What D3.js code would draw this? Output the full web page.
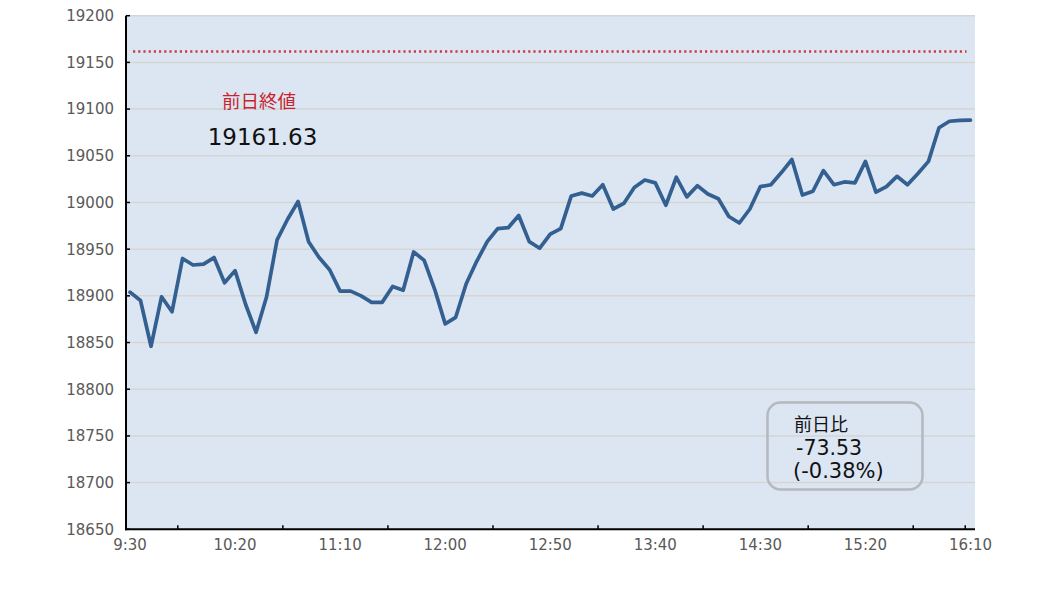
<!DOCTYPE html>
<html><head><meta charset="utf-8">
<script src="https://cdn.jsdelivr.net/npm/d3@7"></script>
<style>
html,body{margin:0;padding:0;background:#fff;}
svg{display:block;font-family:'DejaVu Sans','Noto Sans CJK JP',sans-serif;}
</style></head>
<body>
<svg id="chart" width="1037" height="598"></svg>
<script>
const values = [18904,18895,18846,18899,18883,18940,18933,18934,18941,18914,
18927,18891,18861,18899,18960,18982,19001,18958,18941,18928,
18905,18905,18900,18893,18893,18910,18906,18947,18938,18907,
18870,18877,18913,18937,18958,18972,18973,18986,18958,18951,
18966,18972,19007,19010,19007,19019,18993,18999,19016,19024,
19021,18997,19027,19006,19018,19009,19004,18985,18978,18993,
19017,19019,19032,19046,19008,19012,19034,19019,19022,19021,
19044,19011,19017,19028,19019,19031,19044,19080,19087,19088,19088.1];
const xTickLabels = ["9:30","10:20","11:10","12:00","12:50","13:40","14:30","15:20","16:10"];
const xLabelIndex = [0,10,20,30,40,50,60,70,80];
const xTickIndex = [4.55,14.55,24.55,34.55,44.55,54.55,64.55,74.55,79.5];
const yTicks = [18650,18700,18750,18800,18850,18900,18950,19000,19050,19100,19150,19200];
const prevClose = 19161.63;
const prevCloseLabel = "前日終値";
const changeLabel = "前日比";
const changeValue = "-73.53";
const changePct = "(-0.38%)";

const svg = d3.select("#chart");
const L = 126, R = 975, T = 15.7, B = 529.3;
const x = d3.scaleLinear().domain([0, 80]).range([130, 970.5]);
const y = d3.scaleLinear().domain([18650, 19200]).range([B, T]);

svg.append("rect").attr("x", L).attr("y", T).attr("width", R - L).attr("height", B - T).attr("fill", "#dce6f2");

// gridlines
svg.append("g").selectAll("line").data(yTicks.filter(d => d > 18650)).join("line")
  .attr("x1", L).attr("x2", R).attr("y1", d => y(d)).attr("y2", d => y(d))
  .attr("stroke", "#d5d5d3").attr("stroke-width", 1.5);

// previous close dotted line
svg.append("line").attr("x1", x(0) + 3).attr("x2", x(80) - 4)
  .attr("y1", y(prevClose)).attr("y2", y(prevClose))
  .attr("stroke", "#cf3a3c").attr("stroke-width", 2.6)
  .attr("stroke-dasharray", "2.2,3");

// y axis labels
svg.append("g").selectAll("text").data(yTicks).join("text")
  .attr("x", 114).attr("y", d => y(d)).attr("dy", "0.36em")
  .attr("text-anchor", "end").attr("font-size", 15).attr("fill", "#595959")
  .text(d => d);
// y ticks (inward)
svg.append("g").selectAll("line").data(yTicks).join("line")
  .attr("x1", L).attr("x2", L + 4).attr("y1", d => y(d)).attr("y2", d => y(d))
  .attr("stroke", "#000").attr("stroke-width", 1.5);

// x labels
svg.append("g").selectAll("text").data(xTickLabels).join("text")
  .attr("x", (d, i) => x(xLabelIndex[i])).attr("y", 545).attr("dy", "0.36em")
  .attr("text-anchor", "middle").attr("font-size", 15).attr("fill", "#595959")
  .text(d => d);
// x ticks (inward)
svg.append("g").selectAll("line").data(xTickIndex).join("line")
  .attr("x1", d => x(d)).attr("x2", d => x(d)).attr("y1", B).attr("y2", B - 4)
  .attr("stroke", "#000").attr("stroke-width", 1.5);

// axes lines
svg.append("line").attr("x1", L).attr("x2", L).attr("y1", T).attr("y2", B + 1).attr("stroke", "#000").attr("stroke-width", 2);
svg.append("line").attr("x1", L - 1).attr("x2", R).attr("y1", B).attr("y2", B).attr("stroke", "#000").attr("stroke-width", 2);

// data line
const line = d3.line().x((d, i) => x(i)).y(d => y(d));
svg.append("path").datum(values).attr("d", line)
  .attr("fill", "none").attr("stroke", "#335f91").attr("stroke-width", 3.7)
  .attr("stroke-linejoin", "round").attr("stroke-linecap", "round");

// prev close labels
svg.append("text").attr("x", 259).attr("y", 101.5).attr("dy", "0.36em")
  .attr("text-anchor", "middle").attr("font-size", 18.5).attr("fill", "#c8232c")
  .text(prevCloseLabel);
svg.append("text").attr("x", 262.5).attr("y", 137).attr("dy", "0.36em")
  .attr("text-anchor", "middle").attr("font-size", 23).attr("fill", "#111")
  .text(prevClose.toFixed(2));

// change box
svg.append("rect").attr("x", 767.5).attr("y", 402.5).attr("width", 155).attr("height", 87)
  .attr("rx", 13).attr("ry", 13).attr("fill", "none")
  .attr("stroke", "#b5b8bc").attr("stroke-width", 2.5);
svg.append("text").attr("x", 794).attr("y", 425).attr("dy", "0.36em")
  .attr("font-size", 18).attr("fill", "#111").text(changeLabel);
svg.append("text").attr("x", 796).attr("y", 448).attr("dy", "0.36em")
  .attr("font-size", 20.5).attr("fill", "#111").text(changeValue);
svg.append("text").attr("x", 793).attr("y", 470).attr("dy", "0.36em")
  .attr("font-size", 21).attr("fill", "#111").text(changePct);
</script>
</body></html>
